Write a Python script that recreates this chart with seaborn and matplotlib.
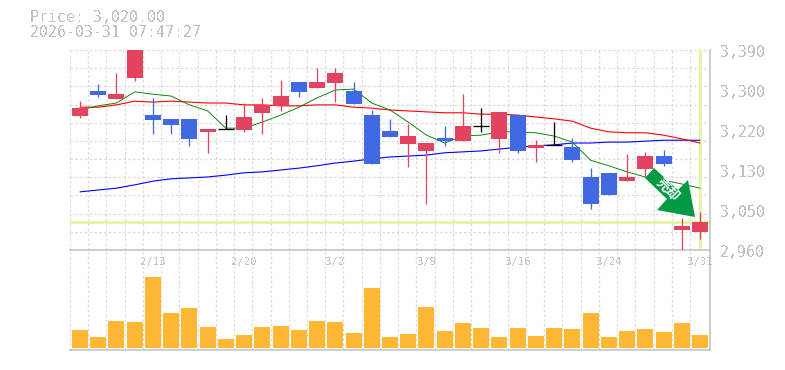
import matplotlib
matplotlib.use("Agg")
import matplotlib.pyplot as plt
from matplotlib.patches import Polygon
from matplotlib.transforms import ScaledTranslation
import numpy as np
import pandas as pd
import seaborn as sns

opens = [3248,3302,3285,3330,3250,3242,3242,3214,3220,3218,3255,3270,3321,3308,3319,3302,3250,3216,3188,3173,3201,3194,3227,3199,3250,3179,3186,3181,3117,3126,3108,3134,3162,3003,2999]
closes = [3266,3293,3295,3390,3239,3229,3199,3220,3220,3246,3272,3291,3300,3321,3341,3274,3145,3203,3205,3190,3194,3227,3227,3257,3173,3186,3186,3153,3059,3078,3117,3162,3145,3012,3020]
highs = [3280,3317,3341,3390,3287,3242,3242,3220,3250,3276,3287,3325,3321,3351,3351,3321,3261,3242,3231,3190,3227,3295,3265,3257,3250,3196,3235,3201,3136,3126,3166,3171,3175,3029,3042]
lows = [3244,3289,3285,3323,3209,3209,3184,3169,3220,3214,3209,3259,3289,3308,3278,3274,3145,3203,3138,3059,3184,3194,3214,3169,3169,3149,3186,3149,3048,3078,3108,3117,3141,2958,2984]
ma_short = [3261,3270,3276,3300,3295,3291,3272,3259,3222,3222,3235,3250,3267,3287,3304,3306,3276,3261,3235,3207,3190,3205,3207,3214,3214,3212,3205,3192,3153,3141,3128,3117,3110,3102,3093]
ma_mid = [3267,3267,3272,3280,3278,3280,3278,3276,3276,3272,3272,3270,3270,3272,3272,3267,3265,3261,3259,3257,3255,3255,3252,3252,3250,3246,3242,3237,3222,3214,3212,3212,3207,3199,3190]
ma_long = [3085,3089,3093,3100,3108,3113,3115,3117,3121,3126,3128,3132,3136,3141,3147,3151,3156,3160,3162,3164,3169,3171,3173,3177,3181,3184,3186,3190,3190,3192,3192,3194,3196,3196,3196]
volume = [18,11,27,26,71,35,40,21,9,13,21,22,18,27,26,15,60,11,14,41,17,25,20,11,20,12,20,19,35,11,17,19,16,25,13]
date_labels = ["2/13","2/20","3/2","3/9","3/16","3/24","3/31"]
date_positions = [4,9,14,19,24,29,34]
price_labels = ["3,390","3,300","3,220","3,130","3,050","2,960"]
price_ticks = [3390,3304,3218,3132,3046,2960]
last_price = 3020

W, H = 785, 370
RED, BLUE, ORANGE = "#e2445f", "#4169e1", "#ffb734"
GRID, FRAME, TXT = "#d8d8d8", "#c0c0c0", "#c0c0c0"
MARK = "#e4f5a5"
PX = 0.72
XLIM = (-0.548, 34.548)
DASH = (0, (2, 2))

sns.set_theme(style="white")
plt.rcParams["font.family"] = ["DejaVu Sans Mono"]
plt.rcParams["text.antialiased"] = False

fig = plt.figure(figsize=(W/100, H/100), dpi=100, facecolor="white")
ax = fig.add_axes([70/W, (H-250)/H, 640/W, 200/H])
axv = fig.add_axes([70/W, (H-350)/H, 640/W, 100/H])

idx = np.arange(len(closes))
df = pd.DataFrame({"i": idx, "short": ma_short, "mid": ma_mid, "long": ma_long, "vol": volume})
grid_x = np.concatenate([[XLIM[0] + 0.02], idx[:-1] + 0.45])

# price panel
ax.axhline(last_price, color=MARK, lw=3*PX, zorder=1.5)
ax.plot([34, 34], [2964, 3390], color=MARK, lw=3*PX, zorder=1.5, solid_capstyle="butt")
sns.lineplot(data=df, x="i", y="long", color="#0000ff", ax=ax, zorder=2, lw=0.8)
sns.lineplot(data=df, x="i", y="mid", color="#ff0000", ax=ax, zorder=2, lw=0.8)
sns.lineplot(data=df, x="i", y="short", color="#008000", ax=ax, zorder=2, lw=0.65)

for i, (o, c, h, l) in enumerate(zip(opens, closes, highs, lows)):
    col = "black" if o == c else (RED if c > o else BLUE)
    ax.vlines(i, l, h, color=col, lw=PX*1.3, zorder=3)
    if o == c:
        ax.hlines(c, i-0.4375, i+0.4375, color=col, lw=PX*1.3, zorder=3)
    else:
        ax.bar(i, abs(c-o), bottom=min(o, c), width=0.875, color=col, lw=0, zorder=3)

ax.set_xlim(*XLIM)
ax.set_ylim(2960, 3390)
ax.set_xlabel(""); ax.set_ylabel("")
ax.set_xticks([])
ax.yaxis.tick_right()
ax.set_yticks(price_ticks, price_labels)
ax.set_yticks(np.linspace(2960, 3390, 12), minor=True)
ax.plot(XLIM, [3389.5, 3389.5], color=GRID, lw=PX*1.2, ls=DASH, zorder=1)

# volume panel
sns.barplot(data=df, x="i", y="vol", native_scale=True, width=0.875, color=ORANGE,
            saturation=1, linewidth=0, ax=axv, zorder=3)
axv.set_xlim(*XLIM)
axv.set_ylim(-2, 98)
axv.set_xlabel(""); axv.set_ylabel("")
axv.set_yticks([])
axv.set_xticks(date_positions, date_labels)

for a in (ax, axv):
    a.set_facecolor("none")
    a.set_axisbelow(True)
    a.set_xticks(grid_x, minor=True)
    a.tick_params(which="both", length=0)
    a.grid(False)
    a.grid(which="minor", axis="x", color=GRID, lw=PX*1.2, ls=DASH)
    a.spines["left"].set_visible(False)
    a.spines["top"].set_visible(False)
    a.spines["right"].set_color(FRAME)
    a.spines["bottom"].set_color(FRAME)
    a.spines["right"].set_linewidth(1.1)
    a.spines["bottom"].set_linewidth(1.1)
ax.grid(which="minor", axis="y", color=GRID, lw=PX*1.2, ls=DASH)

axv.tick_params(axis="x", which="major", top=True, bottom=False, labeltop=True, labelbottom=False,
                length=0, pad=-17*PX, labelsize=7.6, labelcolor="#c4c4c4")

ax.tick_params(axis="y", which="major", pad=10*PX, labelsize=10.7, labelcolor=TXT)
off = ScaledTranslation(0, -7/100, fig.dpi_scale_trans)
for lab in ax.get_yticklabels():
    lab.set_verticalalignment("baseline")
    lab.set_transform(lab.get_transform() + off)

# header
fig.text(30/W, 1-22/H, "Price: 3,020.00", fontsize=10.7, color=TXT, va="baseline")
fig.text(30/W, 1-37/H, "2026-03-31 07:47:27", fontsize=10.7, color=TXT, va="baseline")

# signal arrow
arrow_px = [(654,168),(678,190),(688,180),(695,217),(657,210),(667,199),(645,178)]
fig.add_artist(Polygon([(x/W, 1-y/H) for x, y in arrow_px], closed=True, transform=fig.transFigure,
                       facecolor="#009944", edgecolor="none", zorder=10))
t = fig.text(667.5/W, 1-190/H, "売却", rotation=-45, rotation_mode="anchor", fontsize=9.5, fontweight="bold",
         color="white", ha="center", va="center", family=["Noto Sans CJK JP", "DejaVu Sans"], zorder=11)
t.set_antialiased(True)

fig.savefig("out.png", dpi=100, facecolor="white")
